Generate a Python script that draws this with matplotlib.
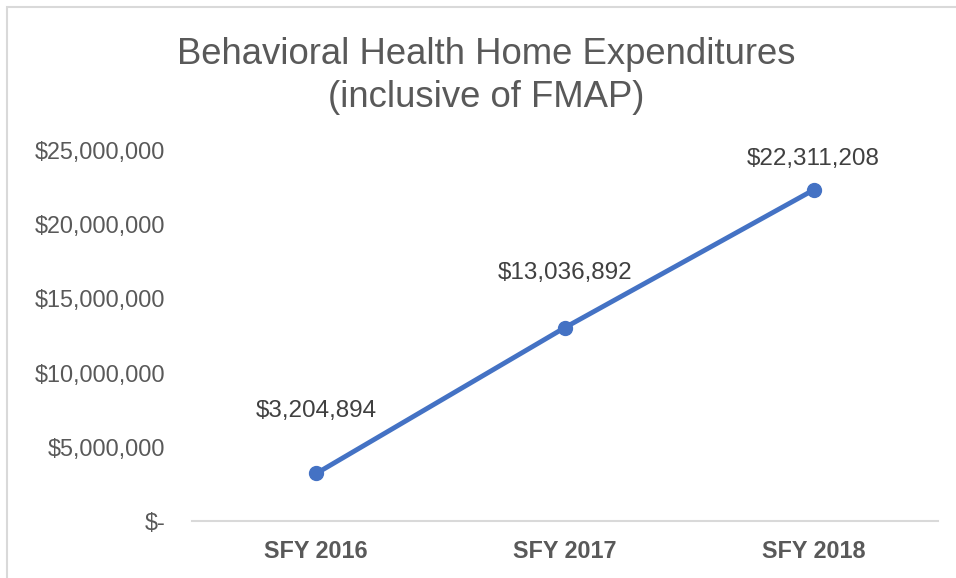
import matplotlib.pyplot as plt
from matplotlib.patches import Rectangle
from matplotlib.ticker import FuncFormatter

years = ["SFY 2016", "SFY 2017", "SFY 2018"]
expenditures = [3204894, 13036892, 22311208]
yticks = [0, 5000000, 10000000, 15000000, 20000000, 25000000]

plt.rcParams['font.family'] = ['Liberation Sans', 'DejaVu Sans']

fig = plt.figure(figsize=(9.56, 5.78), dpi=100)
ax = fig.add_axes([0.2008, 0.0986, 0.7804, 0.6419])

# light grey chart frame (only top/left edges visible in crop)
fig.patches.append(Rectangle((7 / 956, -0.1), 1.2, 1 - 7 / 578 + 0.1,
                             transform=fig.transFigure, fill=False,
                             edgecolor='#D9D9D9', linewidth=1.5))

x = list(range(len(years)))
ax.plot(x, expenditures, color='#4472C4', linewidth=3.5, marker='o',
        markersize=10, solid_capstyle='round')

label_offsets = [45, 39, 22]
for xi, v, off in zip(x, expenditures, label_offsets):
    ax.annotate(f"${v:,.0f}", (xi, v), xytext=(0, off), textcoords='offset points',
                ha='center', va='center', fontsize=17.5, color='#404040')

ax.set_xlim(-0.5, 2.5)
ax.set_ylim(0, 25000000)
ax.set_xticks(x)
ax.set_xticklabels(years, fontweight='bold')
ax.set_yticks(yticks)
ax.yaxis.set_major_formatter(FuncFormatter(lambda v, p: "$-" if v == 0 else f"${v:,.0f}"))
ax.tick_params(axis='both', length=0, labelsize=16.8, labelcolor='#595959')
ax.tick_params(axis='y', pad=19)
ax.tick_params(axis='x', pad=14)

for s in ['top', 'right', 'left']:
    ax.spines[s].set_visible(False)
ax.spines['bottom'].set_color('#D9D9D9')
ax.spines['bottom'].set_linewidth(1.5)

fig.text(0.509, 1 - 76 / 578, "Behavioral Health Home Expenditures\n(inclusive of FMAP)",
         ha='center', va='center', fontsize=26.3, color='#595959', linespacing=1.3)

fig.savefig('out.png', dpi=100)
